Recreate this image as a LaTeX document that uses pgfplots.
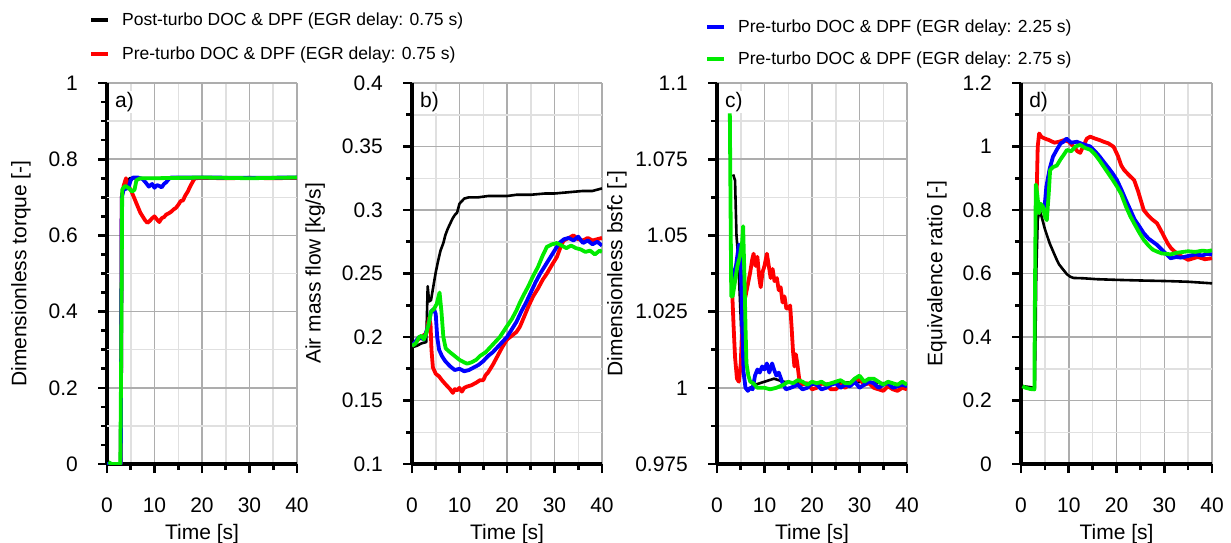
\documentclass[border=0pt]{standalone}
\usepackage{fontspec}
\setmainfont{Liberation Sans}
\usepackage{pgfplots}
\pgfplotsset{compat=1.18}
\definecolor{cRed}{RGB}{255,0,0}
\definecolor{cBlue}{RGB}{0,0,255}
\definecolor{cGreen}{RGB}{0,235,0}

\newcommand{\bigf}{\fontsize{21}{25}\selectfont}
\newcommand{\legf}{\fontsize{17.5}{21}\selectfont}

\pgfplotsset{
    panel/.style={
        scale only axis,
        width=190pt,
        height=381pt,
        xmin=0, xmax=40,
        xtick={0,10,20,30,40},
        minor x tick num=1,
        axis x line*=bottom,
        axis y line*=left,
        axis line style={-, line width=3.2pt, black},
        tick style={black, line width=2.6pt},
        major tick length=9pt,
        minor tick length=6pt,
        tick align=outside,
        xmajorgrids, xminorgrids, ymajorgrids, yminorgrids,
        major grid style={draw=black!32, line width=1.5pt},
        minor grid style={draw=black!12, line width=1.5pt},
        tick label style={font=\bigf},
        yticklabel style={anchor=east, inner sep=0pt, xshift=-20pt},
        xticklabel style={anchor=north, inner sep=0pt, yshift=-25pt},
        label style={font=\bigf},
        xlabel={Time [s]},
        xlabel style={at={(axis description cs:0.5,0)}, anchor=center, yshift=-70pt},
        /pgf/number format/assume math mode=true,
        legend image code/.code={\draw[#1] (0pt,0pt) -- (17pt,0pt);},
        legend cell align=left,
    },
    blk/.style={black, line width=2.6pt, line join=round, forget plot},
    red/.style={cRed, line width=3.8pt, line join=round, forget plot},
    blu/.style={cBlue, line width=3.8pt, line join=round, forget plot},
    grn/.style={cGreen, line width=3.8pt, line join=round, forget plot},
}

\begin{document}
\begin{tikzpicture}
\useasboundingbox (0,0) rectangle (1231pt,542pt);

% ---------------- a) torque
\begin{axis}[panel,
    at={(107pt,78pt)}, anchor=south west,
    ymin=0, ymax=1,
    ytick={0,0.2,0.4,0.6,0.8,1},
    yticklabels={0,0.2,0.4,0.6,0.8,1},
    minor y tick num=3,
    yminorgrids=false,
    extra y ticks={0.1,0.3,0.5,0.7,0.9},
    extra y tick labels={},
    extra y tick style={major grid style={draw=black!12, line width=1.5pt}, major tick length=0pt},
    ylabel={Dimensionless torque [-]},
    ylabel style={at={(axis description cs:-0.453,0.5)}, anchor=center},
    legend style={at={(-0.095,1.120)}, anchor=west, draw=none, fill=none,
        font=\legf, inner sep=0pt, row sep=16pt, /tikz/column sep=10pt},
]
\addlegendimage{black, line width=4pt}
\addlegendentry{Post-turbo DOC \& DPF (EGR delay: 0.75 s)}
\addlegendimage{cRed, line width=4pt}
\addlegendentry{Pre-turbo DOC \& DPF (EGR delay: 0.75 s)}

\addplot[blk] coordinates {(0,0)(2.9,0)(3.1,0.71)(3.6,0.72)(4.2,0.74)(4.8,0.75)(10,0.75)(20,0.75)(30,0.75)(40,0.75)};
\addplot[red] coordinates {(0,0)(2.9,0)(3.1,0.7)(3.5,0.73)(4,0.75)(4.4,0.73)(5,0.72)(5.5,0.705)(6,0.69)(6.5,0.675)(7,0.66)(7.5,0.65)(8,0.64)(8.5,0.633)(9,0.638)(9.5,0.645)(10,0.65)(10.5,0.642)(11,0.635)(11.5,0.645)(12,0.648)(12.5,0.655)(13,0.658)(13.5,0.662)(14,0.668)(14.5,0.672)(15,0.68)(15.5,0.69)(16,0.692)(16.5,0.705)(17,0.715)(17.5,0.728)(18,0.74)(18.5,0.75)(20,0.751)(25,0.75)(30,0.751)(35,0.75)(40,0.751)};
\addplot[blu] coordinates {(0,0)(2.9,0)(3.1,0.7)(3.5,0.72)(4.5,0.725)(5,0.745)(5.5,0.752)(6.5,0.752)(7.5,0.748)(8.2,0.738)(8.8,0.728)(9.5,0.735)(10,0.725)(10.5,0.732)(11,0.73)(11.5,0.726)(12,0.735)(12.5,0.74)(13,0.748)(13.5,0.752)(20,0.752)(30,0.751)(40,0.752)};
\addplot[grn] coordinates {(0.3,0.005)(1,0)(2,0)(2.8,0)(3.0,0.3)(3.2,0.72)(3.8,0.73)(4.5,0.725)(5.3,0.715)(5.8,0.72)(6.2,0.745)(7,0.75)(10,0.75)(20,0.752)(30,0.75)(40,0.752)};

\node[anchor=north west, fill=white, inner sep=1pt, font=\bigf] at (rel axis cs:0.037,0.979) {a)};
\end{axis}

% ---------------- b) air mass flow
\begin{axis}[panel,
    at={(412pt,78pt)}, anchor=south west,
    ymin=0.1, ymax=0.4,
    ytick={0.1,0.15,0.2,0.25,0.3,0.35,0.4},
    yticklabels={0.1,0.15,0.2,0.25,0.3,0.35,0.4},
    minor y tick num=1,
    ylabel={Air mass flow [kg/s]},
    ylabel style={at={(axis description cs:-0.51,0.5)}, anchor=center},
]
\addplot[blk] coordinates {(0,0.192)(1,0.193)(2,0.195)(3,0.196)(3.3,0.24)(3.6,0.228)(4,0.229)(4.5,0.24)(5,0.251)(5.5,0.26)(6,0.268)(6.6,0.274)(7,0.28)(7.5,0.285)(8,0.289)(8.5,0.293)(9,0.296)(9.5,0.298)(10,0.305)(10.5,0.307)(11,0.309)(12,0.310)(14,0.310)(16,0.311)(18,0.311)(20,0.311)(22,0.312)(25,0.312)(28,0.313)(30,0.313)(33,0.314)(36,0.315)(38,0.315)(40,0.317)};
\addplot[red] coordinates {(0,0.193)(1,0.197)(2,0.2)(3,0.203)(3.6,0.215)(3.9,0.21)(4.1,0.19)(4.4,0.176)(5,0.171)(5.7,0.169)(6.3,0.166)(7,0.163)(7.5,0.161)(8,0.159)(8.6,0.156)(9,0.159)(9.5,0.158)(10,0.16)(10.5,0.157)(11,0.16)(11.6,0.161)(12.5,0.162)(13.5,0.164)(14.3,0.166)(15,0.166)(15.5,0.17)(16,0.172)(17,0.178)(18,0.185)(19,0.192)(20,0.198)(21,0.201)(22,0.204)(22.7,0.208)(23.5,0.215)(24.5,0.224)(25.5,0.232)(26.5,0.238)(27.5,0.245)(28.4,0.25)(29.5,0.257)(30.5,0.263)(31.2,0.27)(31.9,0.276)(33,0.278)(34,0.28)(35,0.277)(36,0.276)(37,0.278)(38,0.276)(39,0.277)(40,0.278)};
\addplot[blu] coordinates {(0,0.193)(1.5,0.2)(2.5,0.198)(3.5,0.21)(4,0.22)(4.6,0.222)(5,0.218)(5.3,0.2)(5.7,0.19)(6.3,0.185)(7,0.181)(8,0.177)(9,0.174)(10,0.175)(11,0.173)(12,0.174)(13,0.176)(14,0.178)(15,0.181)(16,0.185)(17,0.188)(18,0.192)(19,0.196)(20,0.2)(21,0.206)(22,0.212)(23,0.22)(24,0.227)(25,0.235)(26,0.243)(27,0.25)(28,0.256)(29,0.262)(30,0.268)(31,0.274)(32,0.277)(33,0.278)(34,0.276)(35,0.279)(36,0.274)(37,0.276)(38,0.273)(39,0.275)(40,0.272)};
\addplot[grn] coordinates {(0,0.193)(0.8,0.195)(1.5,0.2)(2,0.201)(2.5,0.198)(3,0.203)(3.5,0.21)(4,0.22)(4.6,0.222)(5.2,0.226)(5.8,0.235)(6.2,0.22)(6.6,0.2)(7.1,0.191)(8,0.188)(9,0.185)(10,0.182)(11,0.180)(11.6,0.179)(12.5,0.18)(13.5,0.182)(14.3,0.185)(15.5,0.188)(16.5,0.192)(17.5,0.196)(18.5,0.2)(19.9,0.208)(21,0.214)(22,0.221)(22.7,0.227)(23.5,0.233)(24.5,0.24)(25.5,0.248)(26.5,0.255)(27.5,0.264)(28.4,0.271)(29.5,0.273)(30.5,0.274)(31.5,0.272)(32.5,0.27)(33.5,0.272)(34.5,0.27)(35.5,0.269)(36.5,0.267)(37.5,0.268)(38.5,0.265)(39.5,0.268)(40,0.267)};

\node[anchor=north west, fill=white, inner sep=1pt, font=\bigf] at (rel axis cs:0.037,0.979) {b)};
\end{axis}

% ---------------- c) bsfc
\begin{axis}[panel,
    at={(717pt,78pt)}, anchor=south west,
    ymin=0.975, ymax=1.1,
    ytick={0.975,1,1.025,1.05,1.075,1.1},
    yticklabels={0.975,1,1.025,1.05,1.075,1.1},
    minor y tick num=1,
    ylabel={Dimensionless bsfc [-]},
    ylabel style={at={(axis description cs:-0.526,0.5)}, anchor=center},
    legend style={at={(-0.063,1.105)}, anchor=west, draw=none, fill=none,
        font=\legf, inner sep=0pt, row sep=14pt, /tikz/column sep=10pt},
]
\addlegendimage{cBlue, line width=4pt}
\addlegendentry{Pre-turbo DOC \& DPF (EGR delay: 2.25 s)}
\addlegendimage{cGreen, line width=4pt}
\addlegendentry{Pre-turbo DOC \& DPF (EGR delay: 2.75 s)}

\addplot[blk] coordinates {(3.4,1.07)(3.8,1.068)(4.1,1.05)(4.4,1.044)(4.8,1.03)(5.2,1.015)(5.5,1.006)(6,1.0)(6.5,0.9995)(8,1.001)(10,1.002)(12,1.003)(14,1.002)(20,1.001)(30,1.002)(40,1.001)};
\addplot[red] coordinates {(3.1,1.035)(3.5,1.02)(3.8,1.01)(4.2,1.003)(4.6,1.002)(5.0,1.008)(5.3,1.02)(5.6,1.028)(6,1.03)(6.5,1.034)(7,1.038)(7.4,1.042)(7.7,1.044)(8.1,1.04)(8.5,1.043)(8.9,1.036)(9.2,1.033)(9.6,1.038)(10,1.04)(10.5,1.044)(10.9,1.04)(11.3,1.036)(11.7,1.039)(12.1,1.035)(12.6,1.036)(13.0,1.032)(13.4,1.033)(13.8,1.028)(14.2,1.03)(14.6,1.026)(15.0,1.026)(15.4,1.027)(15.7,1.02)(16.0,1.012)(16.3,1.007)(16.6,1.011)(16.9,1.008)(17.3,1.003)(17.8,1.001)(19,1.0015)(20,0.9995)(21,1.0)(22,1.0015)(23,1.001)(24,0.9995)(25,0.9995)(26,1.001)(27,1.0)(28,1.0015)(29,1.002)(30,1.003)(31,1.001)(32,1.0015)(33,1.0)(34,0.9995)(35,0.999)(36,1.0005)(37,0.9995)(38,0.999)(39,1.0)(40,0.9995)};
\addplot[blu] coordinates {(3.0,1.035)(4.0,1.04)(4.6,1.047)(5.0,1.04)(5.3,1.02)(5.6,1.005)(6.0,1.0)(6.5,0.999)(7.0,1.0)(7.5,0.9995)(8.0,1.004)(8.5,1.006)(9,1.005)(9.5,1.007)(10,1.006)(10.5,1.008)(11,1.005)(11.6,1.008)(12,1.006)(12.5,1.004)(13,1.005)(13.7,1.002)(14.5,0.9995)(15.5,1.0)(17,1.001)(18,0.9995)(19,1.0)(20,1.0015)(21,1.001)(22,0.9995)(23,1.0)(24,1.001)(25,1.0015)(26,1.0)(27,1.001)(28,1.0005)(29,1.002)(30,1.0)(31,1.001)(32,1.002)(33,1.0015)(34,1.0)(35,1.001)(36,1.0015)(37,1.0)(38,1.0005)(39,1.001)(40,1.0005)};
\addplot[grn] coordinates {(2.7,1.09)(2.85,1.06)(3.0,1.03)(3.3,1.03)(3.8,1.035)(4.3,1.04)(4.8,1.043)(5.3,1.048)(5.5,1.053)(5.8,1.035)(6.0,1.02)(6.2,1.008)(6.6,1.004)(7.0,1.002)(7.6,1.0015)(8.5,1.0)(10,1.0)(11.2,0.9995)(12.5,1.0)(14,1.001)(15,1.002)(16,1.0015)(17,1.0025)(18,1.002)(19,1.001)(20,1.002)(21,1.0015)(22,1.002)(23,1.001)(24,1.0015)(25,1.002)(26,1.0025)(27,1.0015)(28,1.0015)(29,1.003)(30,1.004)(31,1.002)(32,1.003)(33,1.003)(34,1.002)(35,1.001)(36,1.002)(37,1.0015)(38,1.001)(39,1.002)(40,1.001)};

\node[anchor=north west, fill=white, inner sep=1pt, font=\bigf] at (rel axis cs:0.037,0.979) {c)};
\end{axis}

% ---------------- d) equivalence ratio
\begin{axis}[panel,
    at={(1021pt,78pt)}, anchor=south west,
    width=191pt,
    ymin=0, ymax=1.2,
    ytick={0,0.2,0.4,0.6,0.8,1,1.2},
    yticklabels={0,0.2,0.4,0.6,0.8,1,1.2},
    minor y tick num=1,
    ylabel={Equivalence ratio [-]},
    ylabel style={at={(axis description cs:-0.44,0.5)}, anchor=center},
]
\addplot[blk] coordinates {(0.5,0.245)(2.9,0.24)(3.2,0.6)(3.5,0.77)(3.9,0.80)(4.3,0.78)(5,0.74)(6,0.695)(7,0.66)(7.5,0.643)(8,0.628)(8.9,0.611)(9.6,0.598)(10.3,0.59)(11,0.586)(13,0.585)(16,0.582)(20,0.58)(25,0.578)(31,0.576)(35,0.574)(40,0.569)};
\addplot[red] coordinates {(3.2,0.8)(3.5,1.0)(3.8,1.041)(4.3,1.03)(5,1.025)(5.9,1.02)(7,1.012)(8,1.015)(9,1.02)(10,1.015)(11,1.0)(11.8,0.985)(12.4,0.98)(13,1.0)(13.8,1.025)(14.5,1.031)(15.5,1.025)(16.5,1.02)(17.3,1.015)(18.3,1.01)(19.4,0.999)(20.3,0.97)(21,0.94)(21.6,0.926)(22.6,0.91)(23.7,0.894)(24.5,0.86)(25.7,0.80)(26.5,0.785)(27.5,0.77)(28.5,0.758)(29.5,0.73)(30.7,0.695)(31.4,0.68)(32.1,0.67)(33.5,0.655)(35,0.643)(37,0.652)(38.5,0.645)(40,0.648)};
\addplot[blu] coordinates {(3.3,0.8)(4,0.81)(4.6,0.8)(5.0,0.82)(5.3,0.873)(6,0.93)(6.7,0.968)(7.5,0.99)(8.3,1.01)(8.9,1.015)(9.5,1.025)(10.5,1.012)(11.7,1.015)(12.5,1.01)(13.5,1.005)(14.5,1.0)(15.5,0.985)(16.5,0.968)(17.3,0.952)(18.2,0.935)(19.2,0.915)(20.1,0.894)(21,0.865)(22,0.83)(22.9,0.80)(23.8,0.77)(24.8,0.748)(25.7,0.727)(26.7,0.71)(27.6,0.70)(28.5,0.69)(29.5,0.675)(30.5,0.66)(31.3,0.648)(32.5,0.652)(33.5,0.65)(35,0.655)(36.5,0.66)(38,0.657)(39,0.662)(40,0.66)};
\addplot[grn] coordinates {(0.3,0.245)(1,0.24)(2,0.236)(2.8,0.235)(2.9,0.5)(3.1,0.88)(3.4,0.85)(3.8,0.79)(4.1,0.82)(4.6,0.81)(5.0,0.78)(5.4,0.768)(5.8,0.85)(6.1,0.926)(6.7,0.935)(7.5,0.94)(8.3,0.96)(9,0.975)(9.6,0.989)(10.5,0.985)(11.4,1.0)(12.4,1.005)(13.5,0.995)(14.5,0.99)(15.5,0.975)(16.5,0.955)(17.3,0.937)(18.3,0.915)(19.2,0.895)(20.1,0.874)(21,0.85)(22,0.81)(22.9,0.78)(23.8,0.755)(24.8,0.728)(25.7,0.706)(26.7,0.688)(27.6,0.675)(28.5,0.669)(29.5,0.663)(30.5,0.662)(31.3,0.66)(32.5,0.665)(34,0.668)(35,0.67)(36.5,0.668)(38,0.672)(39,0.67)(40,0.673)};

\node[anchor=north west, fill=white, inner sep=1pt, font=\bigf] at (rel axis cs:0.037,0.979) {d)};
\end{axis}
\end{tikzpicture}
\end{document}
